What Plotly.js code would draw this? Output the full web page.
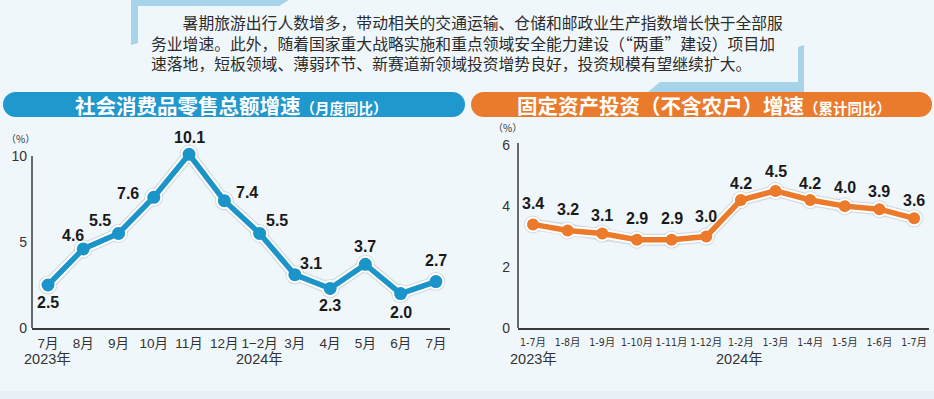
<!DOCTYPE html>
<html>
<head>
<meta charset="utf-8">
<script src="https://cdn.plot.ly/plotly-3.0.1.min.js"></script>
<style>
html,body{margin:0;padding:0;background:#f0f7fb;}
#chart{width:934px;height:399px;}
</style>
</head>
<body>
<div id="chart"></div>
<script>
// ---------- data ----------
const retailMonths = ['7月','8月','9月','10月','11月','12月','1−2月','3月','4月','5月','6月','7月'];
const retailGrowth = [2.5, 4.6, 5.5, 7.6, 10.1, 7.4, 5.5, 3.1, 2.3, 3.7, 2.0, 2.7];
const investPeriods = ['1-7月','1-8月','1-9月','1-10月','1-11月','1-12月','1-2月','1-3月','1-4月','1-5月','1-6月','1-7月'];
const investGrowth = [3.4, 3.2, 3.1, 2.9, 2.9, 3.0, 4.2, 4.5, 4.2, 4.0, 3.9, 3.6];
const leftYTicks = [0, 5, 10];
const rightYTicks = [0, 2, 4, 6];
const leftTitle = '社会消费品零售总额增速';
const leftSub = '（月度同比）';
const rightTitle = '固定资产投资（不含农户）增速';
const rightSub = '（累计同比）';
const introLines = [
  '　　暑期旅游出行人数增多，带动相关的交通运输、仓储和邮政业生产指数增长快于全部服',
  '务业增速。此外，随着国家重大战略实施和重点领域安全能力建设（“两重”建设）项目加',
  '速落地，短板领域、薄弱环节、新赛道新领域投资增势良好，投资规模有望继续扩大。'
];
const unitLabel = '（%）';
const yearLabels = ['2023年', '2024年'];

// ---------- style / layout helpers ----------
const W = 934, H = 399;
const px = x => x / W;
const py = y => 1 - y / H;
const BLUE = '#1b95c9';
const ORANGE = '#eb7a2b';
const CJK = 'Noto Sans CJK SC';
const NUM = 'Liberation Sans, Arial, ' + CJK;

// label offsets (pixels) relative to points
const leftShift = [[0,-17],[-10,13],[-19,13],[-26,4],[0,17],[23,8],[17,13],[16,11],[0,-17],[0,18],[0,-19],[0,21]];
const rightShift = [[0,21],[0,21],[0,18],[0,21],[0,21],[0,20],[0,17],[0,19],[0,17],[0,19],[0,18],[0,18]];

const idxL = retailGrowth.map((_, i) => i);
const idxR = investGrowth.map((_, i) => i);

function lineTraces(x, y, xa, ya, color, msize) {
  return [
    {x, y, xaxis: xa, yaxis: ya, type: 'scatter', mode: 'lines+markers', hoverinfo: 'skip',
     line: {color: 'rgba(170,180,188,0.4)', width: 12}, marker: {size: msize + 6, color: 'rgba(170,180,188,0.4)'}},
    {x, y, xaxis: xa, yaxis: ya, type: 'scatter', mode: 'lines+markers', hoverinfo: 'skip',
     line: {color: '#ffffff', width: 9.5}, marker: {size: msize + 4, color: '#ffffff'}},
    {x, y, xaxis: xa, yaxis: ya, type: 'scatter', mode: 'lines+markers', hoverinfo: 'skip',
     line: {color: color, width: 5.5}, marker: {size: msize, color: color}}
  ];
}

const data = [
  ...lineTraces(idxL, retailGrowth, 'x', 'y', BLUE, 13),
  ...lineTraces(idxR, investGrowth, 'x2', 'y2', ORANGE, 12)
];

const annotations = [];
// intro text (one block)
annotations.push({
  xref: 'paper', yref: 'paper', x: px(149), y: py(43), xanchor: 'left', yanchor: 'middle', align: 'left',
  text: introLines.join('<br>'), showarrow: false, font: {family: CJK, size: 15.8, color: '#2b2b2b'}
});
// banner titles
annotations.push({xref: 'paper', yref: 'paper', x: px(231), y: py(105), xanchor: 'center', yanchor: 'middle', showarrow: false,
  text: '<b>' + leftTitle + '<span style="font-size:14.5px">' + leftSub + '</span></b>', font: {family: CJK, size: 20.5, color: '#ffffff'}});
annotations.push({xref: 'paper', yref: 'paper', x: px(704), y: py(105), xanchor: 'center', yanchor: 'middle', showarrow: false,
  text: '<b>' + rightTitle + '<span style="font-size:14.5px">' + rightSub + '</span></b>', font: {family: CJK, size: 20.5, color: '#ffffff'}});
// unit labels
annotations.push({xref: 'paper', yref: 'paper', x: px(20), y: py(138), xanchor: 'center', yanchor: 'middle', showarrow: false,
  text: unitLabel, font: {family: CJK, size: 10, color: '#333'}});
annotations.push({xref: 'paper', yref: 'paper', x: px(507), y: py(127), xanchor: 'center', yanchor: 'middle', showarrow: false,
  text: unitLabel, font: {family: CJK, size: 10, color: '#333'}});
// year labels
[[47, 0], [259, 1], [533, 0], [739, 1]].forEach(([x, k]) => annotations.push({
  xref: 'paper', yref: 'paper', x: px(x), y: py(359), xanchor: 'center', yanchor: 'middle', showarrow: false,
  text: yearLabels[k], font: {family: NUM, size: 14.5, color: '#333'}
}));
// data labels
retailGrowth.forEach((v, i) => annotations.push({
  xref: 'x', yref: 'y', x: i, y: v, xshift: leftShift[i][0], yshift: leftShift[i][1], showarrow: false,
  text: '<b>' + v.toFixed(1) + '</b>', font: {family: NUM, size: 16, color: '#1a1a1a'}
}));
investGrowth.forEach((v, i) => annotations.push({
  xref: 'x2', yref: 'y2', x: i, y: v, xshift: rightShift[i][0], yshift: rightShift[i][1], showarrow: false,
  text: '<b>' + v.toFixed(1) + '</b>', font: {family: NUM, size: 16, color: '#1a1a1a'}
}));

function pathPaper(pts) {
  return 'M' + pts.map(p => px(p[0]) + ',' + py(p[1])).join(' L') + ' Z';
}
function roundBanner(x0, y0, x1, y1) {
  const r = (y1 - y0) / 2, cy = (y0 + y1) / 2;
  const pts = [];
  for (let a = -90; a <= 90; a += 10) { const t = a * Math.PI / 180; pts.push([x1 - r + r * Math.cos(t), cy + r * Math.sin(t)]); }
  for (let a = 90; a <= 270; a += 10) { const t = a * Math.PI / 180; pts.push([x0 + r + r * Math.cos(t), cy + r * Math.sin(t)]); }
  return pathPaper(pts);
}

const BAR = '#a7d4eb';
const shapes = [
  {type: 'rect', xref: 'paper', yref: 'paper', x0: 0, x1: 1, y0: 0, y1: py(391), fillcolor: '#e7f1f5', line: {width: 0}, layer: 'below'},
  {type: 'path', xref: 'paper', yref: 'paper', path: pathPaper([[131,0],[289,0],[279,6],[138,6]]), fillcolor: BAR, line: {width: 0}},
  {type: 'path', xref: 'paper', yref: 'paper', path: pathPaper([[131,0],[138,0],[138,43],[131,45]]), fillcolor: BAR, line: {width: 0}},
  {type: 'path', xref: 'paper', yref: 'paper', path: pathPaper([[798,47],[804,45],[804,92],[798,92]]), fillcolor: BAR, line: {width: 0}},
  {type: 'path', xref: 'paper', yref: 'paper', path: pathPaper([[660,82],[804,82],[804,92],[648,92]]), fillcolor: BAR, line: {width: 0}},
  {type: 'path', xref: 'paper', yref: 'paper', path: roundBanner(3, 92, 465, 117), fillcolor: '#1f98cd', line: {width: 0}},
  {type: 'path', xref: 'paper', yref: 'paper', path: roundBanner(471, 92, 932, 117), fillcolor: '#ea7a2c', line: {width: 0}},
  {type: 'line', xref: 'paper', yref: 'paper', x0: px(32), x1: px(32), y0: py(328), y1: py(156), line: {color: '#3a3a3a', width: 1.5}},
  {type: 'line', xref: 'paper', yref: 'paper', x0: px(518), x1: px(518), y0: py(328), y1: py(143), line: {color: '#3a3a3a', width: 1.5}}
];

const axisCommon = {showgrid: false, zeroline: false, fixedrange: true, ticks: '', tickangle: 0};
const layout = {
  width: W, height: H,
  margin: {l: 0, r: 0, t: 0, b: 0},
  paper_bgcolor: '#f0f7fb', plot_bgcolor: 'rgba(0,0,0,0)',
  showlegend: false,
  xaxis: Object.assign({}, axisCommon, {
    domain: [px(32), px(450)], anchor: 'y', range: [-0.454, 11.4],
    tickmode: 'array', tickvals: idxL, ticktext: retailMonths,
    showline: true, linecolor: '#3a3a3a', linewidth: 1.5,
    tickfont: {family: NUM, size: 13.5, color: '#333'}, ticklabelstandoff: 2
  }),
  yaxis: Object.assign({}, axisCommon, {
    domain: [py(328), py(138.8)], anchor: 'x', range: [0, 11],
    tickmode: 'array', tickvals: leftYTicks, showline: false,
    tickfont: {family: NUM, size: 14, color: '#333'}, ticklabelstandoff: 4
  }),
  xaxis2: Object.assign({}, axisCommon, {
    domain: [px(518), px(929)], anchor: 'y2', range: [-0.433, 11.43],
    tickmode: 'array', tickvals: idxR, ticktext: investPeriods,
    showline: true, linecolor: '#3a3a3a', linewidth: 1.5,
    tickfont: {family: 'Liberation Sans Narrow, DejaVu Sans Condensed, ' + NUM, size: 10.5, color: '#333'}, ticklabelstandoff: 4
  }),
  yaxis2: Object.assign({}, axisCommon, {
    domain: [py(328), py(133)], anchor: 'x2', range: [0, 6.4],
    tickmode: 'array', tickvals: rightYTicks, showline: false,
    tickfont: {family: NUM, size: 14, color: '#333'}, ticklabelstandoff: 7
  }),
  shapes, annotations
};

Plotly.newPlot('chart', data, layout, {staticPlot: true, displayModeBar: false});
</script>
</body>
</html>
